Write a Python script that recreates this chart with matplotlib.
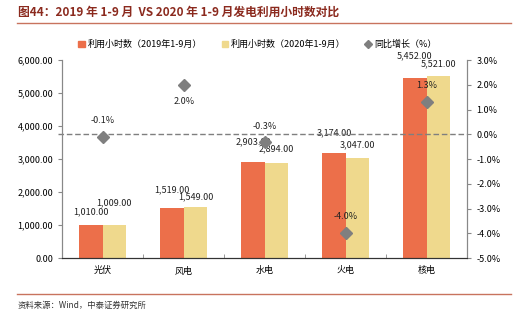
import matplotlib.pyplot as plt
import matplotlib.lines as mlines
import matplotlib.patches as mpatches
import numpy as np

plt.rcParams['font.family'] = ['Noto Sans CJK SC', 'DejaVu Sans']

categories = ['光伏', '风电', '水电', '火电', '核电']
hours_2019 = [1010, 1519, 2903, 3174, 5452]
hours_2020 = [1009, 1549, 2894, 3047, 5521]
yoy_growth = [-0.1, 2.0, -0.3, -4.0, 1.3]

red = '#EC6F4A'
yellow = '#EFD98D'
gray = '#7F7F7F'

fig = plt.figure(figsize=(5.31, 3.21), dpi=100)
ax = fig.add_axes([0.117, 0.196, 0.763, 0.617])
ax2 = ax.twinx()

x = np.arange(len(categories))
w = 0.29
ax.bar(x - w / 2, hours_2019, w, color=red, zorder=2)
ax.bar(x + w / 2, hours_2020, w, color=yellow, zorder=2)

# bar value labels (pixel offsets roughly as in the Excel original)
off19 = [9, 13, 15, 15, 16]
off20 = [16, 7, 10, 9, 9]
for i in range(len(categories)):
    ax.annotate(f'{hours_2019[i]:,.2f}', (x[i] - w / 2, hours_2019[i]), xytext=(0, off19[i]),
                textcoords='offset points', ha='center', va='center', fontsize=6.5, color='#222222')
    ax.annotate(f'{hours_2020[i]:,.2f}', (x[i] + w / 2, hours_2020[i]), xytext=(0, off20[i]),
                textcoords='offset points', ha='center', va='center', fontsize=6.5, color='#222222')

ax.set_xlim(-0.5, len(categories) - 0.5)
ax.set_ylim(0, 6000)
ax.set_yticks(np.arange(0, 6001, 1000))
ax.set_yticklabels([f'{v:,.2f}' for v in np.arange(0, 6001, 1000)])
ax.set_xticks(x)
ax.set_xticklabels(categories)
ax.set_xticks(np.arange(-0.5, len(categories), 1), minor=True)
ax.tick_params(axis='x', which='major', length=0, pad=6, labelsize=6.5)
ax.tick_params(axis='x', which='minor', length=3, direction='in', color='#888888')
ax.tick_params(axis='y', labelsize=6.5, length=3, color='#888888')

ax2.plot(x, yoy_growth, 'D', color=gray, ms=6, zorder=3)
ax2.axhline(0, xmin=-0.01, xmax=1.0, color=gray, ls=(0, (4, 2)), lw=1, clip_on=False, zorder=1)
ax2.set_ylim(-5, 3)
ax2.set_yticks(np.arange(-5, 3.1, 1))
ax2.set_yticklabels([f'{v:.1f}%' for v in np.arange(-5, 3.1, 1)])
ax2.tick_params(axis='y', labelsize=6.5, length=3, color='#888888')

pct_off = [12, -12, 11, 12, 12]
for i in range(len(categories)):
    ax2.annotate(f'{yoy_growth[i]:.1f}%', (x[i], yoy_growth[i]), xytext=(0, pct_off[i]),
                 textcoords='offset points', ha='center', va='center', fontsize=6.5, color='#222222')

for a in (ax, ax2):
    a.spines['top'].set_visible(False)
    a.spines['left'].set_color('#888888')
    a.spines['right'].set_color('#888888')
    a.spines['bottom'].set_color('#333333')

# legend
handles = [mpatches.Patch(color=red, label='利用小时数（2019年1-9月）'),
           mpatches.Patch(color=yellow, label='利用小时数（2020年1-9月）'),
           mlines.Line2D([], [], marker='D', color=gray, ls='', ms=4, label='同比增长（%）')]
fig.legend(handles=handles, loc='center', bbox_to_anchor=(0.485, 0.862), ncol=3, frameon=False,
           fontsize=6.5, handlelength=0.7, handleheight=0.7, columnspacing=2.2, handletextpad=0.3)

# title, separators and source
fig.text(0.034, 0.962, '图44：2019 年 1-9 月  VS 2020 年 1-9 月发电利用小时数对比', fontsize=8.5,
         fontweight='bold', color='#8B2A1E', va='center')
fig.add_artist(mlines.Line2D([0.032, 0.962], [0.928, 0.928], color='#C8735E', lw=1))
fig.add_artist(mlines.Line2D([0.032, 0.962], [0.084, 0.084], color='#C8735E', lw=1))
fig.text(0.034, 0.05, '资料来源：Wind，中泰证券研究所', fontsize=6, color='#333333', va='center',
         style='italic')

fig.savefig('out.png', dpi=100)
